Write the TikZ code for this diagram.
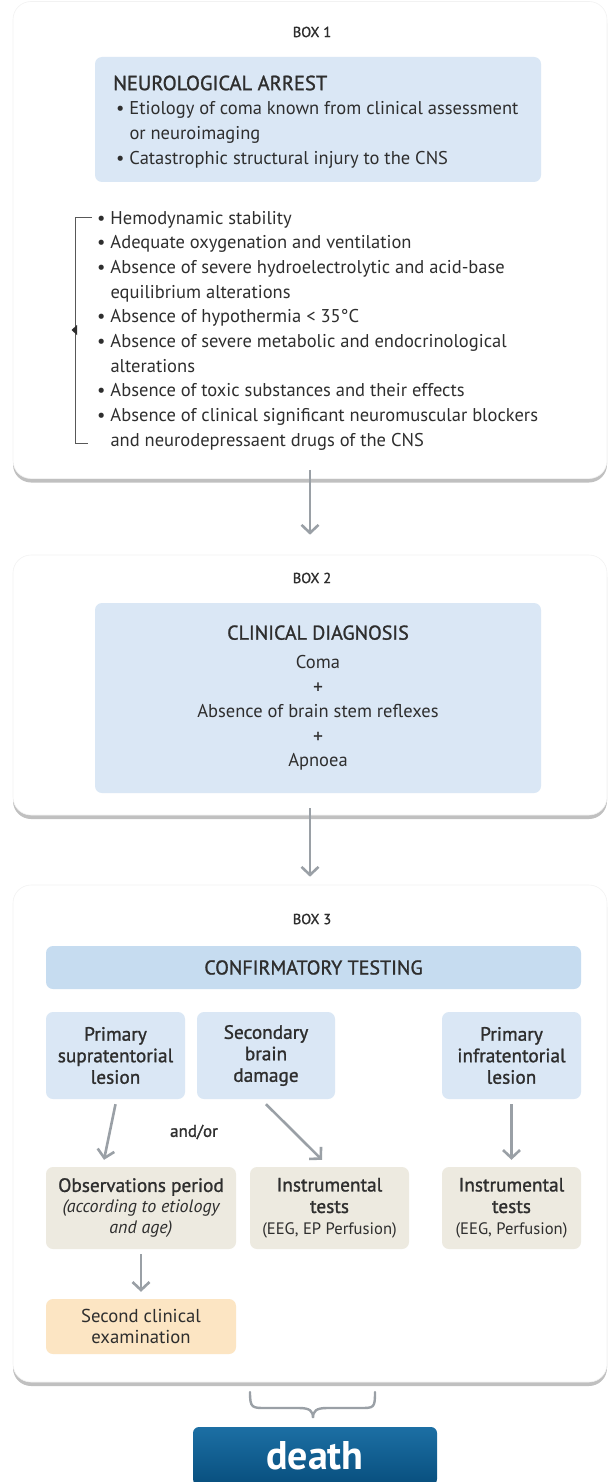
\documentclass[tikz,border=0pt]{standalone}
\usepackage{fontspec}
\setmainfont{PT Sans}
\newfontfamily\medfont[FakeBold=1.2]{PT Sans}
\usetikzlibrary{arrows.meta,shadows}
\definecolor{boxblue}{HTML}{DAE7F5}
\definecolor{barblue}{HTML}{C6DCF0}
\definecolor{sand}{HTML}{EDEAE0}
\definecolor{peach}{HTML}{FCE5C3}
\definecolor{arrowgray}{HTML}{9AA0A6}
\definecolor{inkgray}{HTML}{2E2E2E}
\definecolor{deathtop}{HTML}{1C6FA4}
\definecolor{deathbot}{HTML}{084F7E}
\newcommand\subfont{\rmfamily\fontsize{16.6}{21}\selectfont}

\begin{document}
\begin{tikzpicture}[x=1pt,y=-1pt,>={Straight Barb[length=8pt,width=17pt]},
  font=\fontsize{18.5}{24.65}\selectfont,text=inkgray,
  panel/.style={rectangle,rounded corners=18pt,fill=white,draw=black!5,line width=.6pt,
    drop shadow={shadow xshift=0pt,shadow yshift=-4pt,opacity=.55,fill=black!45},
    minimum width=594pt},
  box label/.style={font=\medfont\fontsize{14.5}{16}\selectfont},
  blue box/.style={rectangle,rounded corners=7pt,fill=boxblue,inner sep=0pt},
  small box/.style={rectangle,rounded corners=7pt,inner sep=0pt,align=center,
    font=\medfont\fontsize{19.3}{21.5}\selectfont},
  flow/.style={->,draw=arrowgray,line width=2.6pt}]

  \useasboundingbox (0,0) rectangle (608,1482);

  % panels
  \node[panel,minimum height=477pt] (p1) at (310,240) {};
  \node[panel,minimum height=260pt] (p2) at (310,685) {};
  \node[panel,minimum height=497pt] (p3) at (310,1133.5) {};

  % box 1
  \node[box label] (b1) at (312,32) {BOX 1};
  \node[blue box,minimum width=446pt,minimum height=125pt] (na) at (318,119.5) {};
  \node[anchor=west,inner sep=0pt,font=\medfont\fontsize{20.5}{22}\selectfont] (nat) at (113,83) {NEUROLOGICAL ARREST};
  \node[anchor=north west,align=left,inner sep=0pt] (nal) at (116,101.5)
    {\textbullet\ Etiology of coma known from clinical assessment\\
     \hphantom{\textbullet\ }or neuroimaging\\
     \textbullet\ Catastrophic structural injury to the CNS};

  \node[anchor=north west,align=left,inner sep=0pt] (cond) at (97,211)
    {\textbullet\ Hemodynamic stability\\
     \textbullet\ Adequate oxygenation and ventilation\\
     \textbullet\ Absence of severe hydroelectrolytic and acid-base\\
     \hphantom{\textbullet\ }equilibrium alterations\\
     \textbullet\ Absence of hypothermia < 35°C\\
     \textbullet\ Absence of severe metabolic and endocrinological\\
     \hphantom{\textbullet\ }alterations\\
     \textbullet\ Absence of toxic substances and their effects\\
     \textbullet\ Absence of clinical significant neuromuscular blockers\\
     \hphantom{\textbullet\ }and neurodepressaent drugs of the CNS};
  \draw[inkgray!80,line width=.8pt] (92,217) -- (75.5,217) -- (75.5,443) -- (88,443);
  \fill[inkgray] (77,325) -- (71.5,330) -- (77,335) -- cycle;

  % box 2
  \node[box label] (b2) at (312,578) {BOX 2};
  \node[blue box,minimum width=446pt,minimum height=190pt] (cd) at (318,698) {};
  \node[align=center,inner sep=0pt] (cdt) at (cd)
    {\medfont\fontsize{20}{22}\selectfont CLINICAL DIAGNOSIS\\[4pt]
     Coma\\ \medfont +\\ Absence of brain stem reflexes\\ \medfont +\\ Apnoea};

  % box 3
  \node[box label] (b3) at (312,919) {BOX 3};
  \node[blue box,fill=barblue,minimum width=535pt,minimum height=43pt,
    font=\medfont\fontsize{20}{22}\selectfont] (ct) at (313.5,967.5) {CONFIRMATORY TESTING};
  \node[small box,fill=boxblue,minimum width=139pt,minimum height=87pt] (psup) at (115.5,1055.5)
    {Primary\\supratentorial\\lesion};
  \node[small box,fill=boxblue,minimum width=138pt,minimum height=87pt] (sbd) at (266,1055.5)
    {Secondary\\brain\\damage};
  \node[small box,fill=boxblue,minimum width=139pt,minimum height=87pt] (pinf) at (511.5,1055.5)
    {Primary\\infratentorial\\lesion};
  \node[font=\medfont\fontsize{17}{18}\selectfont] (ao) at (194,1132) {and/or};
  \node[small box,fill=sand,minimum width=190pt,minimum height=82pt] (obs) at (141,1208)
    {Observations period\\[-1pt]
     \rmfamily\itshape\fontsize{18}{21}\selectfont (according to etiology\\
     \rmfamily\itshape\fontsize{18}{21}\selectfont and age)};
  \node[small box,fill=sand,minimum width=159pt,minimum height=82pt] (instb) at (329.5,1208)
    {Instrumental\\tests\\ \subfont (EEG, EP Perfusion)};
  \node[small box,fill=sand,minimum width=139pt,minimum height=82pt] (instc) at (511.5,1208)
    {Instrumental\\tests\\ \subfont (EEG, Perfusion)};
  \node[small box,fill=peach,minimum width=190pt,minimum height=55pt,
    font=\fontsize{18.7}{21.5}\selectfont] (sec) at (141,1326.5)
    {Second clinical\\examination};

  \draw[flow] ([yshift=9pt]p1.south) -- ([yshift=20pt]p2.north);
  \draw[flow] ([yshift=7pt]p2.south) -- ([yshift=8pt]p3.north);
  \draw[flow] ([yshift=-5pt]psup.south) -- ([xshift=-37pt,yshift=7pt]obs.north);
  \draw[flow] ([yshift=-5pt]sbd.south) -- ([xshift=-7.5pt,yshift=7pt]instb.north);
  \draw[flow] ([yshift=-5pt]pinf.south) -- ([yshift=7pt]instc.north);
  \draw[flow] ([yshift=-5pt]obs.south) -- ([yshift=7pt]sec.north);

  % brace and result
  \draw[arrowgray,line width=2.4pt,line cap=round]
    (250,1392) .. controls (250,1408) and (252,1408) .. (266,1408) -- (299,1408)
    .. controls (310,1408) and (313,1411) .. (313,1418)
    .. controls (313,1411) and (316,1408) .. (327,1408) -- (360,1408)
    .. controls (374,1408) and (375,1408) .. (375,1392);
  \node[rectangle,rounded corners=6pt,top color=deathtop,bottom color=deathbot,
    minimum width=244pt,minimum height=58pt,inner sep=0pt,text=white,
    font=\bfseries\fontsize{40}{44}\selectfont] (d) at (315,1456) {death};
\end{tikzpicture}
\end{document}
